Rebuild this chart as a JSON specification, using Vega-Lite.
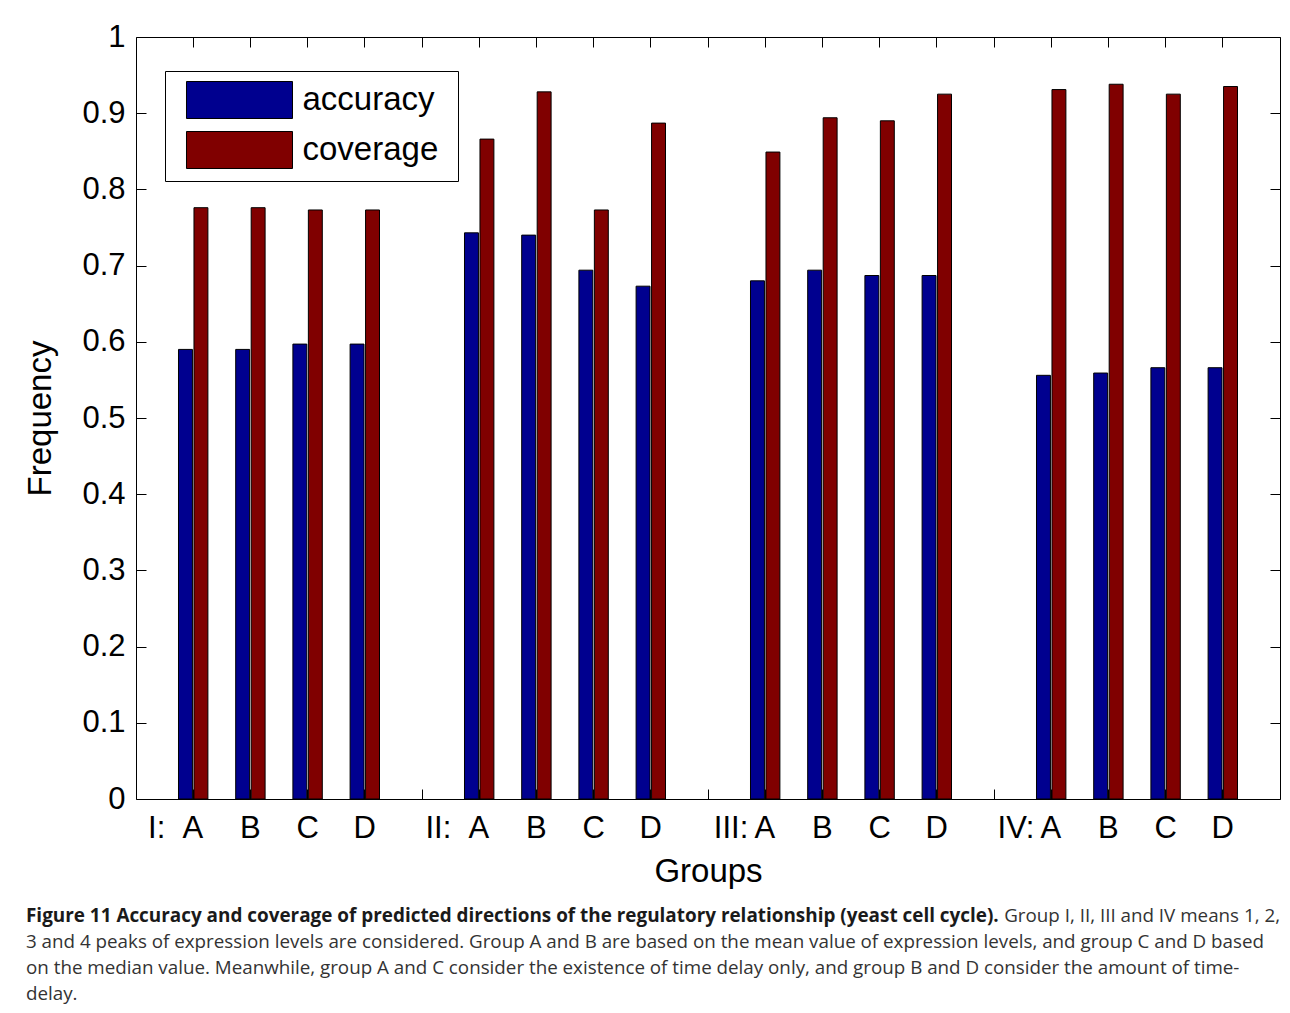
{
  "$schema": "https://vega.github.io/schema/vega-lite/v6.json",
  "width": 1144,
  "height": 762,
  "autosize": {"type": "none"},
  "padding": {"left": 136, "top": 37, "right": 10, "bottom": 214},
  "background": "white",
  "config": {
    "view": {"stroke": "black", "strokeWidth": 1},
    "font": "Liberation Sans",
    "axis": {
      "grid": false,
      "domain": false,
      "tickColor": "black",
      "tickSize": -10,
      "tickWidth": 1,
      "labelColor": "black",
      "labelFont": "Liberation Sans",
      "labelFontSize": 31,
      "titleFont": "Liberation Sans",
      "titleFontSize": 33,
      "titleFontWeight": "normal",
      "titleColor": "black"
    }
  },
  "datasets": {
    "bars": [
      {"slot": "I:\u00a0\u00a0A", "series": "accuracy", "value": 0.590},
      {"slot": "I:\u00a0\u00a0A", "series": "coverage", "value": 0.776},
      {"slot": "I B", "series": "accuracy", "value": 0.590},
      {"slot": "I B", "series": "coverage", "value": 0.776},
      {"slot": "I C", "series": "accuracy", "value": 0.597},
      {"slot": "I C", "series": "coverage", "value": 0.773},
      {"slot": "I D", "series": "accuracy", "value": 0.597},
      {"slot": "I D", "series": "coverage", "value": 0.773},
      {"slot": "II:\u00a0\u00a0A", "series": "accuracy", "value": 0.743},
      {"slot": "II:\u00a0\u00a0A", "series": "coverage", "value": 0.866},
      {"slot": "II B", "series": "accuracy", "value": 0.740},
      {"slot": "II B", "series": "coverage", "value": 0.928},
      {"slot": "II C", "series": "accuracy", "value": 0.694},
      {"slot": "II C", "series": "coverage", "value": 0.773},
      {"slot": "II D", "series": "accuracy", "value": 0.673},
      {"slot": "II D", "series": "coverage", "value": 0.887},
      {"slot": "III:\u2009A", "series": "accuracy", "value": 0.680},
      {"slot": "III:\u2009A", "series": "coverage", "value": 0.849},
      {"slot": "III B", "series": "accuracy", "value": 0.694},
      {"slot": "III B", "series": "coverage", "value": 0.894},
      {"slot": "III C", "series": "accuracy", "value": 0.687},
      {"slot": "III C", "series": "coverage", "value": 0.890},
      {"slot": "III D", "series": "accuracy", "value": 0.687},
      {"slot": "III D", "series": "coverage", "value": 0.925},
      {"slot": "IV:\u2009A", "series": "accuracy", "value": 0.556},
      {"slot": "IV:\u2009A", "series": "coverage", "value": 0.931},
      {"slot": "IV B", "series": "accuracy", "value": 0.559},
      {"slot": "IV B", "series": "coverage", "value": 0.938},
      {"slot": "IV C", "series": "accuracy", "value": 0.566},
      {"slot": "IV C", "series": "coverage", "value": 0.925},
      {"slot": "IV D", "series": "accuracy", "value": 0.566},
      {"slot": "IV D", "series": "coverage", "value": 0.935}
    ]
  },
  "data": {"name": "bars"},
  "layer": [
    {
      "mark": {"type": "bar", "stroke": "black", "strokeWidth": 1},
      "encoding": {
        "x": {
          "field": "slot",
          "type": "nominal",
          "scale": {
            "domain": ["I:\u00a0\u00a0A", "I B", "I C", "I D", "g1", "II:\u00a0\u00a0A", "II B", "II C", "II D", "g2", "III:\u2009A", "III B", "III C", "III D", "g3", "IV:\u2009A", "IV B", "IV C", "IV D"],
            "paddingInner": 0.486,
            "paddingOuter": 0.743
          },
          "axis": {
            "orient": "bottom",
            "labelAngle": 0,
            "labelPadding": 24,
            "labelExpr": "indexof(datum.value, ':') > 0 ? datum.value : (indexof(datum.value, ' ') > 0 ? slice(datum.value, indexof(datum.value, ' ') + 1) : '')",
            "labelAlign": {"condition": {"test": "indexof(datum.value, ':') > 0", "value": "right"}, "value": "center"},
            "labelOffset": {"condition": {"test": "indexof(datum.value, ':') > 0", "value": 10}, "value": 0},
            "title": "Groups",
            "titlePadding": 12
          }
        },
        "xOffset": {
          "field": "series",
          "type": "nominal",
          "scale": {"domain": ["accuracy", "coverage"], "paddingInner": 0.1}
        },
        "y": {
          "field": "value",
          "type": "quantitative",
          "scale": {"domain": [0, 1], "nice": false},
          "axis": {
            "orient": "left",
            "values": [0, 0.1, 0.2, 0.3, 0.4, 0.5, 0.6, 0.7, 0.8, 0.9, 1],
            "format": ".1~f",
            "labelPadding": 21,
            "title": "Frequency",
            "titlePadding": 24
          }
        },
        "color": {
          "field": "series",
          "type": "nominal",
          "scale": {"domain": ["accuracy", "coverage"], "range": ["#00008F", "#800000"]},
          "legend": {
            "title": null,
            "orient": "none",
            "legendX": 29,
            "legendY": 34,
            "direction": "vertical",
            "padding": 10,
            "strokeColor": "black",
            "fillColor": "white",
            "symbolType": "M-2.865,-1H2.865V1H-2.865Z",
            "symbolSize": 1369,
            "symbolStrokeColor": "black",
            "symbolStrokeWidth": 1,
            "symbolOffset": 45.5,
            "labelOffset": 44,
            "labelExpr": "datum.label + '\u00a0\u200b'",
            "labelFont": "Liberation Sans",
            "labelFontSize": 33,
            "labelColor": "black",
            "rowPadding": 8
          }
        }
      }
    },
    {
      "mark": {"type": "bar", "opacity": 0},
      "encoding": {
        "x": {
          "field": "slot",
          "type": "nominal",
          "scale": {
            "domain": ["I:\u00a0\u00a0A", "I B", "I C", "I D", "g1", "II:\u00a0\u00a0A", "II B", "II C", "II D", "g2", "III:\u2009A", "III B", "III C", "III D", "g3", "IV:\u2009A", "IV B", "IV C", "IV D"],
            "paddingInner": 0.486,
            "paddingOuter": 0.743
          },
          "axis": {"orient": "top", "labels": false, "title": null}
        },
        "y": {
          "field": "value",
          "type": "quantitative",
          "scale": {"domain": [0, 1], "nice": false},
          "axis": {"orient": "right", "labels": false, "title": null, "values": [0, 0.1, 0.2, 0.3, 0.4, 0.5, 0.6, 0.7, 0.8, 0.9, 1]}
        }
      }
    },
    {
      "data": {"values": [{"t": "Figure 11 Accuracy and coverage of predicted directions of the regulatory relationship (yeast cell cycle)."}]},
      "mark": {"type": "text", "x": -110, "y": 885, "align": "left", "baseline": "alphabetic", "font": "Open Sans", "fontSize": 18.9, "fontWeight": "bold", "color": "#1a1a1a"},
      "encoding": {"text": {"field": "t", "type": "nominal"}}
    },
    {
      "data": {"values": [{"t": "Group I, II, III and IV means 1, 2,"}]},
      "mark": {"type": "text", "x": 1144, "y": 885, "align": "right", "baseline": "alphabetic", "font": "Open Sans", "fontSize": 18.8, "color": "#333333"},
      "encoding": {"text": {"field": "t", "type": "nominal"}}
    },
    {
      "data": {"values": [{"t": "3 and 4 peaks of expression levels are considered. Group A and B are based on the mean value of expression levels, and group C and D based\non the median value. Meanwhile, group A and C consider the existence of time delay only, and group B and D consider the amount of time-\ndelay."}]},
      "mark": {"type": "text", "x": -110, "y": 911, "align": "left", "baseline": "alphabetic", "font": "Open Sans", "fontSize": 18.8, "lineBreak": "\n", "lineHeight": 26, "color": "#333333"},
      "encoding": {"text": {"field": "t", "type": "nominal"}}
    }
  ],
  "resolve": {"axis": {"x": "independent", "y": "independent"}}
}
